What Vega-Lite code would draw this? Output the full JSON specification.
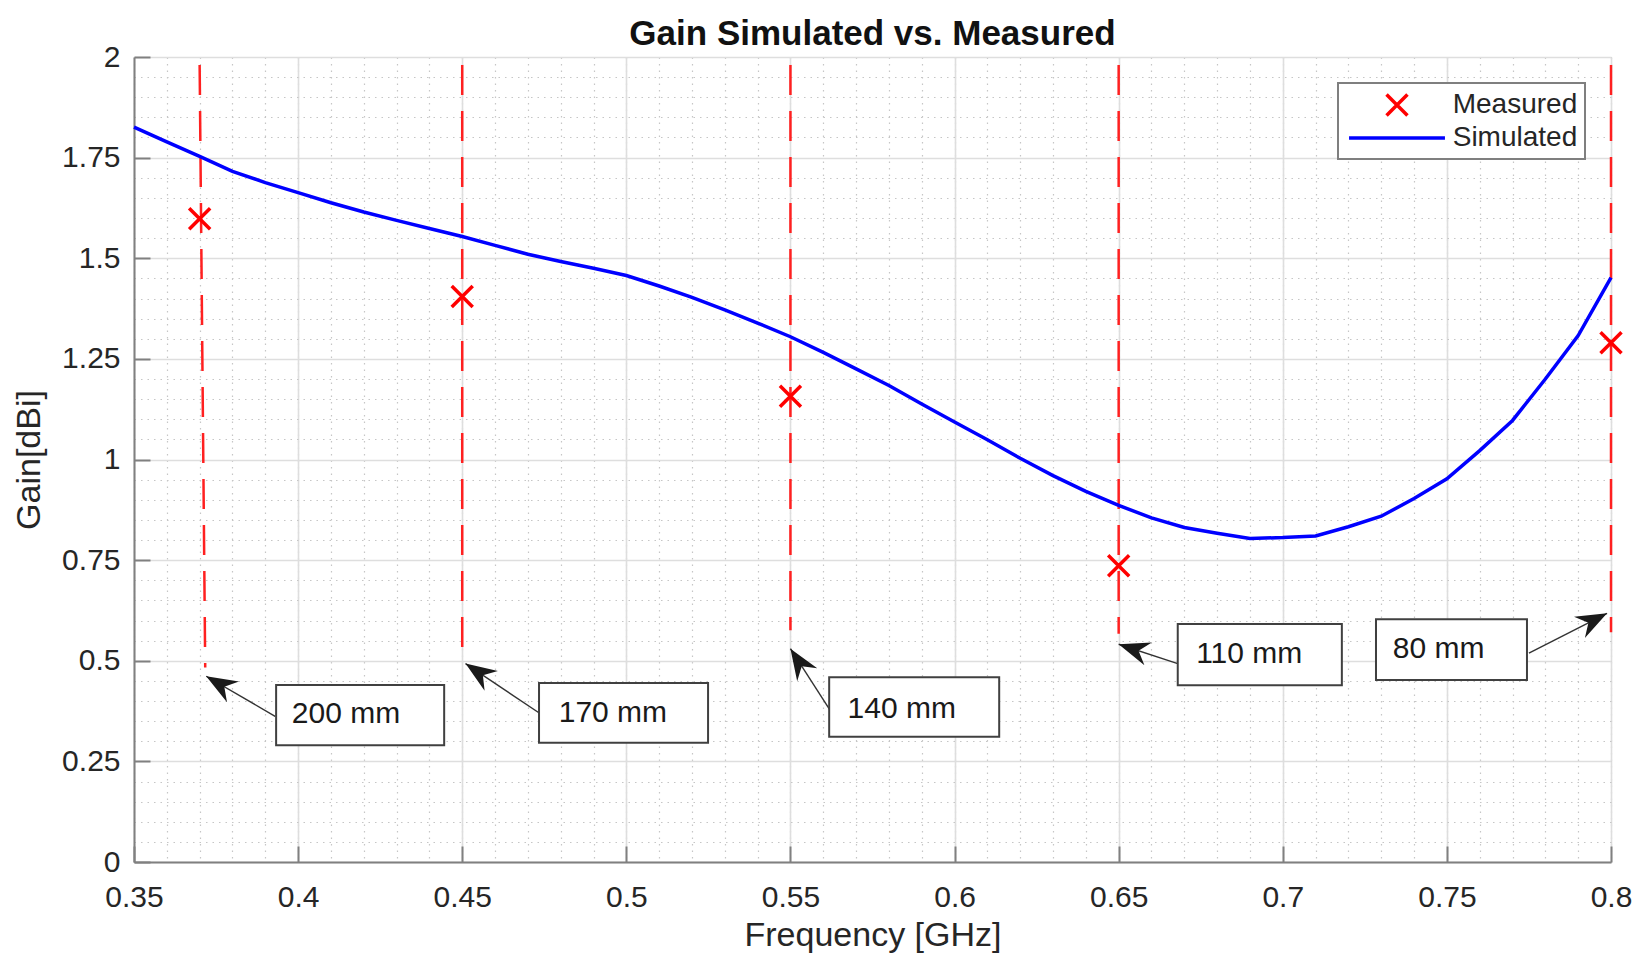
{
  "$schema": "https://vega.github.io/schema/vega-lite/v6.json",
  "width": 1477,
  "height": 805,
  "autosize": {"type": "none"},
  "padding": {"left": 134, "top": 57, "right": 36, "bottom": 107},
  "background": "white",
  "config": {
    "view": {"stroke": null},
    "font": "Liberation Sans",
    "axis": {"labelFont": "Liberation Sans", "titleFont": "Liberation Sans"}
  },
  "title": {
    "text": "Gain Simulated vs. Measured",
    "font": "Liberation Sans",
    "fontSize": 35,
    "fontWeight": "bold",
    "color": "#111111",
    "anchor": "middle",
    "offset": 6,
    "dy": 16
  },
  "datasets": {
    "sim": [
      {"freq": 0.35, "gain": 1.826, "series": "Simulated"},
      {"freq": 0.36, "gain": 1.789, "series": "Simulated"},
      {"freq": 0.37, "gain": 1.753, "series": "Simulated"},
      {"freq": 0.38, "gain": 1.716, "series": "Simulated"},
      {"freq": 0.39, "gain": 1.688, "series": "Simulated"},
      {"freq": 0.40, "gain": 1.663, "series": "Simulated"},
      {"freq": 0.41, "gain": 1.638, "series": "Simulated"},
      {"freq": 0.42, "gain": 1.615, "series": "Simulated"},
      {"freq": 0.43, "gain": 1.594, "series": "Simulated"},
      {"freq": 0.44, "gain": 1.574, "series": "Simulated"},
      {"freq": 0.45, "gain": 1.554, "series": "Simulated"},
      {"freq": 0.46, "gain": 1.532, "series": "Simulated"},
      {"freq": 0.47, "gain": 1.510, "series": "Simulated"},
      {"freq": 0.48, "gain": 1.492, "series": "Simulated"},
      {"freq": 0.49, "gain": 1.475, "series": "Simulated"},
      {"freq": 0.50, "gain": 1.457, "series": "Simulated"},
      {"freq": 0.51, "gain": 1.431, "series": "Simulated"},
      {"freq": 0.52, "gain": 1.403, "series": "Simulated"},
      {"freq": 0.53, "gain": 1.372, "series": "Simulated"},
      {"freq": 0.54, "gain": 1.339, "series": "Simulated"},
      {"freq": 0.55, "gain": 1.305, "series": "Simulated"},
      {"freq": 0.56, "gain": 1.266, "series": "Simulated"},
      {"freq": 0.57, "gain": 1.225, "series": "Simulated"},
      {"freq": 0.58, "gain": 1.184, "series": "Simulated"},
      {"freq": 0.59, "gain": 1.138, "series": "Simulated"},
      {"freq": 0.60, "gain": 1.093, "series": "Simulated"},
      {"freq": 0.61, "gain": 1.049, "series": "Simulated"},
      {"freq": 0.62, "gain": 1.003, "series": "Simulated"},
      {"freq": 0.63, "gain": 0.960, "series": "Simulated"},
      {"freq": 0.64, "gain": 0.921, "series": "Simulated"},
      {"freq": 0.65, "gain": 0.886, "series": "Simulated"},
      {"freq": 0.66, "gain": 0.855, "series": "Simulated"},
      {"freq": 0.67, "gain": 0.831, "series": "Simulated"},
      {"freq": 0.68, "gain": 0.817, "series": "Simulated"},
      {"freq": 0.69, "gain": 0.804, "series": "Simulated"},
      {"freq": 0.70, "gain": 0.806, "series": "Simulated"},
      {"freq": 0.71, "gain": 0.810, "series": "Simulated"},
      {"freq": 0.72, "gain": 0.833, "series": "Simulated"},
      {"freq": 0.73, "gain": 0.859, "series": "Simulated"},
      {"freq": 0.74, "gain": 0.903, "series": "Simulated"},
      {"freq": 0.75, "gain": 0.952, "series": "Simulated"},
      {"freq": 0.76, "gain": 1.022, "series": "Simulated"},
      {"freq": 0.77, "gain": 1.097, "series": "Simulated"},
      {"freq": 0.78, "gain": 1.200, "series": "Simulated"},
      {"freq": 0.79, "gain": 1.308, "series": "Simulated"},
      {"freq": 0.80, "gain": 1.452, "series": "Simulated"}
    ],
    "meas": [
      {"freq": 0.37, "gain": 1.598, "series": "Measured"},
      {"freq": 0.45, "gain": 1.405, "series": "Measured"},
      {"freq": 0.55, "gain": 1.157, "series": "Measured"},
      {"freq": 0.65, "gain": 0.736, "series": "Measured"},
      {"freq": 0.80, "gain": 1.290, "series": "Measured"}
    ],
    "guides": [
      {"f": 0.370, "f2": 0.3717, "top": 1.98, "bottom": 0.483},
      {"f": 0.450, "f2": 0.450, "top": 1.98, "bottom": 0.504},
      {"f": 0.550, "f2": 0.550, "top": 1.98, "bottom": 0.576},
      {"f": 0.650, "f2": 0.650, "top": 1.98, "bottom": 0.567},
      {"f": 0.800, "f2": 0.800, "top": 1.98, "bottom": 0.571}
    ],
    "notes": [
      {"label": "200 mm", "bx": 0.3933, "bx2": 0.4445, "by": 0.290, "by2": 0.440, "tx": 0.3981, "ty": 0.367, "sx": 0.393, "sy": 0.362, "hx": 0.372, "hy": 0.4615},
      {"label": "170 mm", "bx": 0.4734, "bx2": 0.5249, "by": 0.296, "by2": 0.445, "tx": 0.4794, "ty": 0.369, "sx": 0.4737, "sy": 0.369, "hx": 0.451, "hy": 0.493},
      {"label": "140 mm", "bx": 0.5618, "bx2": 0.6136, "by": 0.311, "by2": 0.459, "tx": 0.5674, "ty": 0.381, "sx": 0.5624, "sy": 0.373, "hx": 0.550, "hy": 0.530},
      {"label": "110 mm", "bx": 0.6680, "bx2": 0.7180, "by": 0.439, "by2": 0.591, "tx": 0.6736, "ty": 0.516, "sx": 0.668, "sy": 0.493, "hx": 0.650, "hy": 0.541},
      {"label": "80 mm", "bx": 0.7284, "bx2": 0.7744, "by": 0.452, "by2": 0.603, "tx": 0.7335, "ty": 0.528, "sx": 0.775, "sy": 0.519, "hx": 0.7988, "hy": 0.618}
    ]
  },
  "resolve": {"axis": {"x": "independent", "y": "independent"}},
  "layer": [
    {
      "data": {"name": "guides"},
      "mark": {"type": "rule", "color": "#ff2020", "strokeWidth": 2.5, "strokeDash": [30, 16]},
      "encoding": {
        "x": {
          "field": "f",
          "type": "quantitative",
          "scale": {"domain": [0.35, 0.8], "nice": false, "zero": false},
          "axis": {
            "orient": "bottom",
            "values": [0.35, 0.36, 0.37, 0.38, 0.39, 0.40, 0.41, 0.42, 0.43, 0.44, 0.45, 0.46, 0.47, 0.48, 0.49, 0.50, 0.51, 0.52, 0.53, 0.54, 0.55, 0.56, 0.57, 0.58, 0.59, 0.60, 0.61, 0.62, 0.63, 0.64, 0.65, 0.66, 0.67, 0.68, 0.69, 0.70, 0.71, 0.72, 0.73, 0.74, 0.75, 0.76, 0.77, 0.78, 0.79, 0.80],
            "title": null,
            "labels": false,
            "ticks": false,
            "domain": false,
            "grid": true,
            "gridColor": "#c6c6c6",
            "gridDash": [1.5, 5],
            "gridWidth": 1.2
          }
        },
        "x2": {"field": "f2"},
        "y": {
          "field": "top",
          "type": "quantitative",
          "scale": {"domain": [0, 2], "nice": false, "zero": true},
          "axis": {
            "orient": "left",
            "values": [0, 0.05, 0.1, 0.15, 0.2, 0.25, 0.3, 0.35, 0.4, 0.45, 0.5, 0.55, 0.6, 0.65, 0.7, 0.75, 0.8, 0.85, 0.9, 0.95, 1, 1.05, 1.1, 1.15, 1.2, 1.25, 1.3, 1.35, 1.4, 1.45, 1.5, 1.55, 1.6, 1.65, 1.7, 1.75, 1.8, 1.85, 1.9, 1.95, 2],
            "title": null,
            "labels": false,
            "ticks": false,
            "domain": false,
            "grid": true,
            "gridColor": "#c6c6c6",
            "gridDash": [1.5, 5],
            "gridWidth": 1.2
          }
        },
        "y2": {"field": "bottom"}
      }
    },
    {
      "data": {"name": "notes"},
      "mark": {"type": "rule", "color": "#333333", "strokeWidth": 1.4},
      "encoding": {
        "x": {
          "field": "sx",
          "type": "quantitative",
          "axis": {
            "orient": "bottom",
            "values": [0.35, 0.4, 0.45, 0.5, 0.55, 0.6, 0.65, 0.7, 0.75, 0.8],
            "labelExpr": "format(datum.value, '~g')",
            "title": "Frequency [GHz]",
            "titleFontSize": 34,
            "titleFontWeight": "normal",
            "titleColor": "#262626",
            "titlePadding": 6,
            "labelFontSize": 30,
            "labelColor": "#262626",
            "labelPadding": 36,
            "labelOverlap": false,
            "labelBound": false,
            "labelFlush": false,
            "domainColor": "#808080",
            "domainWidth": 2,
            "tickSize": -16,
            "tickWidth": 2,
            "tickColor": "#808080",
            "grid": true,
            "gridColor": "#dedede",
            "gridWidth": 1.6
          }
        },
        "x2": {"field": "hx"},
        "y": {
          "field": "sy",
          "type": "quantitative",
          "axis": {
            "orient": "left",
            "values": [0, 0.25, 0.5, 0.75, 1, 1.25, 1.5, 1.75, 2],
            "labelExpr": "format(datum.value, '~g')",
            "title": "Gain[dBi]",
            "titleFontSize": 34,
            "titleFontWeight": "normal",
            "titleColor": "#262626",
            "titlePadding": 15,
            "labelFontSize": 30,
            "labelColor": "#262626",
            "labelPadding": 30,
            "labelOverlap": false,
            "labelBound": false,
            "labelFlush": false,
            "domainColor": "#808080",
            "domainWidth": 2,
            "tickSize": -16,
            "tickWidth": 2,
            "tickColor": "#808080",
            "grid": true,
            "gridColor": "#dedede",
            "gridWidth": 1.6
          }
        },
        "y2": {"field": "hy"}
      }
    },
    {
      "data": {"name": "notes"},
      "mark": {"type": "rect", "fill": "white", "stroke": "#404040", "strokeWidth": 2},
      "encoding": {
        "x": {"field": "bx", "type": "quantitative", "axis": null},
        "x2": {"field": "bx2"},
        "y": {"field": "by", "type": "quantitative", "axis": null},
        "y2": {"field": "by2"}
      }
    },
    {
      "data": {"name": "notes"},
      "mark": {"type": "text", "align": "left", "baseline": "middle", "font": "Liberation Sans", "fontSize": 30, "color": "#1a1a1a"},
      "encoding": {
        "x": {"field": "tx", "type": "quantitative", "axis": null},
        "y": {"field": "ty", "type": "quantitative", "axis": null},
        "text": {"field": "label"}
      }
    },
    {
      "data": {"name": "sim"},
      "mark": {"type": "line", "strokeWidth": 3.5},
      "encoding": {
        "x": {"field": "freq", "type": "quantitative", "axis": null},
        "y": {"field": "gain", "type": "quantitative", "axis": null},
        "color": {
          "field": "series",
          "type": "nominal",
          "scale": {"domain": ["Measured", "Simulated"], "range": ["#ff0000", "#0000ff"]},
          "legend": {
            "title": null,
            "orient": "top-right",
            "offset": 26,
            "padding": 7,
            "fillColor": "white",
            "strokeColor": "#7f7f7f",
            "labelFont": "Liberation Sans",
            "labelFontSize": 28,
            "labelColor": "#262626",
            "labelLimit": 400,
            "symbolType": "stroke",
            "symbolSize": 702,
            "symbolOffset": 37,
            "labelOffset": 40.7,
            "rowPadding": 0,
            "encode": {
              "legend": {"update": {"strokeWidth": {"value": 2}}},
              "symbols": {
                "update": {
                  "shape": {"signal": "datum.value === 'Measured' ? 'M-0.79,-0.79L0.79,0.79M0.79,-0.79L-0.79,0.79' : 'M-3.62,0L3.62,0'"},
                  "size": {"value": 702},
                  "stroke": {"signal": "datum.value === 'Measured' ? '#ff0000' : '#0000ff'"},
                  "strokeWidth": {"value": 3.5},
                  "fill": {"value": "transparent"},
                  "opacity": {"value": 1}
                }
              }
            }
          }
        }
      }
    },
    {
      "data": {"name": "meas"},
      "mark": {"type": "point", "shape": "M-1,-1L1,1M1,-1L-1,1", "filled": false, "size": 441, "strokeWidth": 3.5, "opacity": 1},
      "encoding": {
        "x": {"field": "freq", "type": "quantitative", "axis": null},
        "y": {"field": "gain", "type": "quantitative", "axis": null},
        "color": {"field": "series", "type": "nominal"}
      }
    },
    {
      "data": {"name": "notes"},
      "transform": [
        {"calculate": "atan2((datum.hx - datum.sx) * 3282, (datum.hy - datum.sy) * 403) * 180 / PI", "as": "dir"}
      ],
      "mark": {"type": "point", "shape": "M0,0L0.77,2L0,1.35L-0.77,2Z", "filled": true, "size": 961, "color": "#1a1a1a", "opacity": 1},
      "encoding": {
        "x": {"field": "hx", "type": "quantitative", "axis": null},
        "y": {"field": "hy", "type": "quantitative", "axis": null},
        "angle": {"field": "dir", "type": "quantitative", "scale": null}
      }
    }
  ]
}
